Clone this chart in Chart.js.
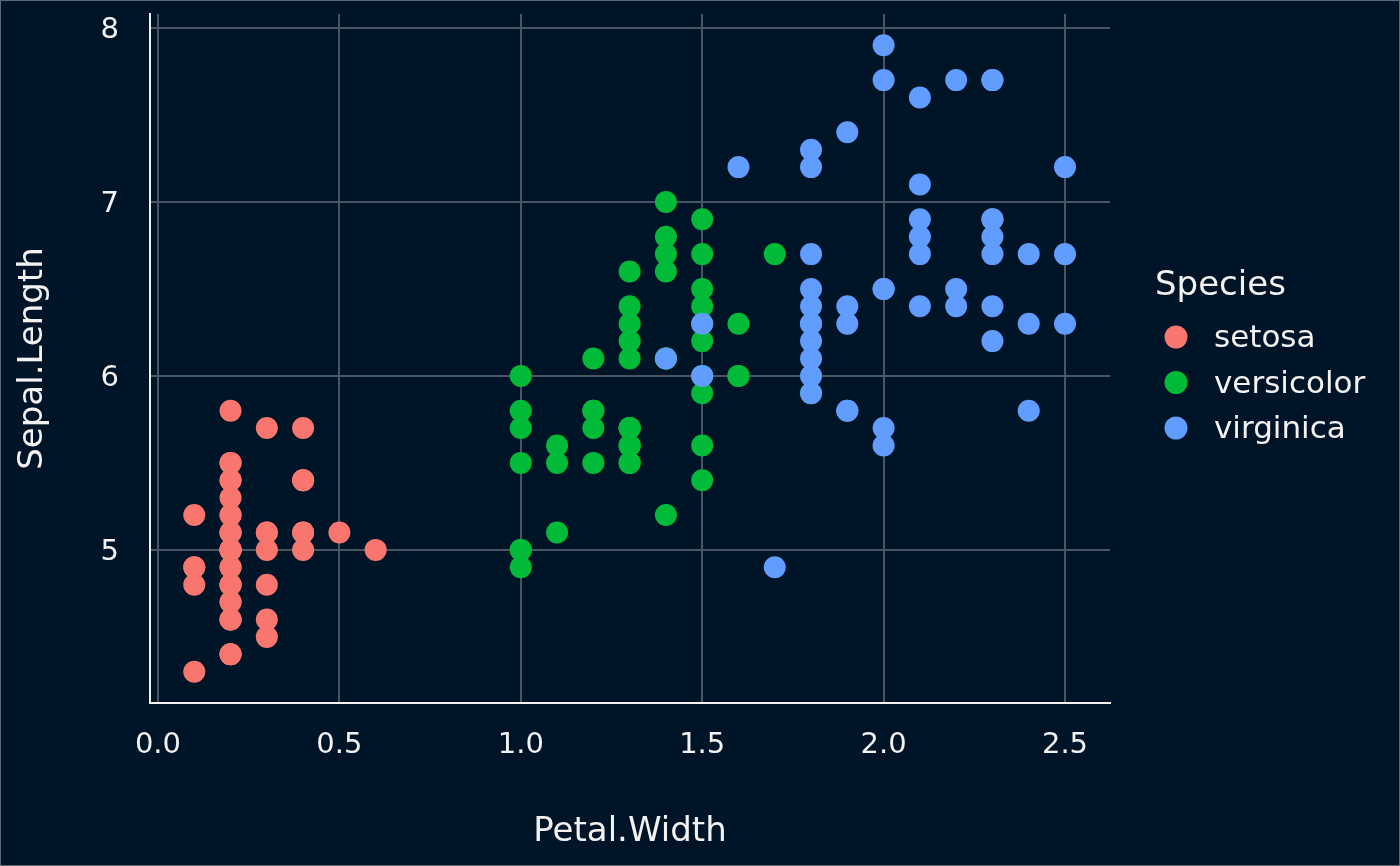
<!DOCTYPE html>
<html>
<head>
<meta charset="utf-8">
<script src="https://cdn.jsdelivr.net/npm/chart.js@4"></script>
<style>
  html, body { margin: 0; padding: 0; background: #001428; }
  #wrap { width: 1400px; height: 866px; }
</style>
</head>
<body>
<div id="wrap"><canvas id="iris_scatter"></canvas></div>
<script>
// iris: Petal.Width (x) / Sepal.Length (y), by species
const setosaWidth  = [0.2,0.2,0.2,0.2,0.2,0.4,0.3,0.2,0.2,0.1,0.2,0.2,0.1,0.1,0.2,0.4,0.4,0.3,0.3,0.3,0.2,0.4,0.2,0.5,0.2,0.2,0.4,0.2,0.2,0.2,0.2,0.4,0.1,0.2,0.2,0.2,0.2,0.1,0.2,0.2,0.3,0.3,0.2,0.6,0.4,0.3,0.2,0.2,0.2,0.2];
const setosaLength = [5.1,4.9,4.7,4.6,5.0,5.4,4.6,5.0,4.4,4.9,5.4,4.8,4.8,4.3,5.8,5.7,5.4,5.1,5.7,5.1,5.4,5.1,4.6,5.1,4.8,5.0,5.0,5.2,5.2,4.7,4.8,5.4,5.2,5.5,4.9,5.0,5.5,4.9,4.4,5.1,5.0,4.5,4.4,5.0,5.1,4.8,5.1,4.6,5.3,5.0];

const versicolorWidth  = [1.4,1.5,1.5,1.3,1.5,1.3,1.6,1.0,1.3,1.4,1.0,1.5,1.0,1.4,1.3,1.4,1.5,1.0,1.5,1.1,1.8,1.3,1.5,1.2,1.3,1.4,1.4,1.7,1.5,1.0,1.1,1.0,1.2,1.6,1.5,1.6,1.5,1.3,1.3,1.3,1.2,1.4,1.2,1.0,1.3,1.2,1.3,1.3,1.1,1.3];
const versicolorLength = [7.0,6.4,6.9,5.5,6.5,5.7,6.3,4.9,6.6,5.2,5.0,5.9,6.0,6.1,5.6,6.7,5.6,5.8,6.2,5.6,5.9,6.1,6.3,6.1,6.4,6.6,6.8,6.7,6.0,5.7,5.5,5.5,5.8,6.0,5.4,6.0,6.7,6.3,5.6,5.5,5.5,6.1,5.8,5.0,5.6,5.7,5.7,6.2,5.1,5.7];

const virginicaWidth  = [2.5,1.9,2.1,1.8,2.2,2.1,1.7,1.8,1.8,2.5,2.0,1.9,2.1,2.0,2.4,2.3,1.8,2.2,2.3,1.5,2.3,2.0,2.0,1.8,2.1,1.8,1.8,1.8,2.1,1.6,1.9,2.0,2.2,1.5,1.4,2.3,2.4,1.8,1.8,2.1,2.4,2.3,1.9,2.3,2.5,2.3,1.9,2.0,2.3,1.8];
const virginicaLength = [6.3,5.8,7.1,6.3,6.5,7.6,4.9,7.3,6.7,7.2,6.5,6.4,6.8,5.7,5.8,6.4,6.5,7.7,7.7,6.0,6.9,5.6,7.7,6.3,6.7,7.2,6.2,6.1,6.4,7.2,7.4,7.9,6.4,6.3,6.1,7.7,6.3,6.4,6.0,6.9,6.7,6.9,5.8,6.8,6.7,6.7,6.3,6.5,6.2,5.9];

const speciesNames = ['setosa', 'versicolor', 'virginica'];
const xTicks = [0.0, 0.5, 1.0, 1.5, 2.0, 2.5];
const yTicks = [5, 6, 7, 8];

const BG = '#001428';
const TEXT = '#f2f2f2';
const GRID = '#4a5564';
const FONT = "'DejaVu Sans', sans-serif";

function makeSet(label, xs, ys, color, order) {
    return {
        label: label,
        data: xs.map((x, i) => ({ x: x, y: ys[i] })),
        backgroundColor: color,
        borderWidth: 0,
        pointRadius: 11,
        pointHoverRadius: 11,
        order: order   // later rows on top, like ggplot
    };
}

const datasets = [
    makeSet(speciesNames[0], setosaWidth, setosaLength, '#F8766D', 3),
    makeSet(speciesNames[1], versicolorWidth, versicolorLength, '#00BA38', 2),
    makeSet(speciesNames[2], virginicaWidth, virginicaLength, '#619CFF', 1)
];

// background and thin outer frame
const backdrop = {
    id: 'backdrop',
    beforeDraw(chart) {
        const c = chart.ctx;
        c.save();
        c.fillStyle = BG;
        c.fillRect(0, 0, chart.width, chart.height);
        c.strokeStyle = '#5d6875';
        c.lineWidth = 1;
        c.strokeRect(0.5, 0.5, chart.width - 1, chart.height - 1);
        c.restore();
    }
};

// ggplot-like legend on the right
const sideLegend = {
    id: 'sideLegend',
    afterDraw(chart) {
        const c = chart.ctx;
        c.save();
        c.fillStyle = TEXT;
        c.textBaseline = 'middle';
        c.textAlign = 'left';
        c.font = '34px ' + FONT;
        c.fillText('Species', 1155, 286);
        c.font = '31px ' + FONT;
        chart.data.datasets.forEach((ds, i) => {
            const y = 337 + i * 45.5;
            c.beginPath();
            c.fillStyle = ds.backgroundColor;
            c.arc(1176, y, 11.5, 0, Math.PI * 2);
            c.fill();
            c.fillStyle = TEXT;
            c.fillText(ds.label, 1214, y + 2);
        });
        c.restore();
    }
};

const ctx = document.getElementById('iris_scatter').getContext('2d');
new Chart(ctx, {
    type: 'scatter',
    data: { datasets: datasets },
    plugins: [backdrop, sideLegend],
    options: {
        responsive: true,
        maintainAspectRatio: false,
        animation: false,
        events: [],
        layout: { padding: { top: 14, right: 290, bottom: 0, left: 0 } },
        plugins: {
            legend: { display: false },
            tooltip: { enabled: false }
        },
        scales: {
            x: {
                type: 'linear',
                min: -0.022,
                max: 2.624,
                afterBuildTicks: (axis) => { axis.ticks = xTicks.map(v => ({ value: v })); },
                afterFit: (axis) => { axis.height = 163; },
                grid: { color: GRID, lineWidth: 2, drawTicks: false },
                border: { display: true, color: TEXT, width: 2 },
                ticks: {
                    color: TEXT,
                    padding: 25,
                    font: { family: FONT, size: 29 },
                    callback: (v) => Number(v).toFixed(1)
                },
                title: {
                    display: true,
                    text: 'Petal.Width',
                    color: TEXT,
                    font: { family: FONT, size: 34 },
                    padding: { top: 0, bottom: 13 }
                }
            },
            y: {
                type: 'linear',
                min: 4.12,
                max: 8.08,
                afterBuildTicks: (axis) => { axis.ticks = yTicks.map(v => ({ value: v })); },
                afterFit: (axis) => {
                    axis.width = 150;
                    axis.paddingTop = 0;
                    axis.paddingBottom = 0;
                },
                grid: { color: GRID, lineWidth: 2, drawTicks: false },
                border: { display: true, color: TEXT, width: 2 },
                ticks: {
                    color: TEXT,
                    padding: 31,
                    labelOffset: 3,
                    font: { family: FONT, size: 29 },
                    callback: (v) => String(v)
                },
                title: {
                    display: true,
                    text: 'Sepal.Length',
                    color: TEXT,
                    font: { family: FONT, size: 34 },
                    padding: { top: 13, bottom: 0 }
                }
            }
        }
    }
});
</script>
</body>
</html>
